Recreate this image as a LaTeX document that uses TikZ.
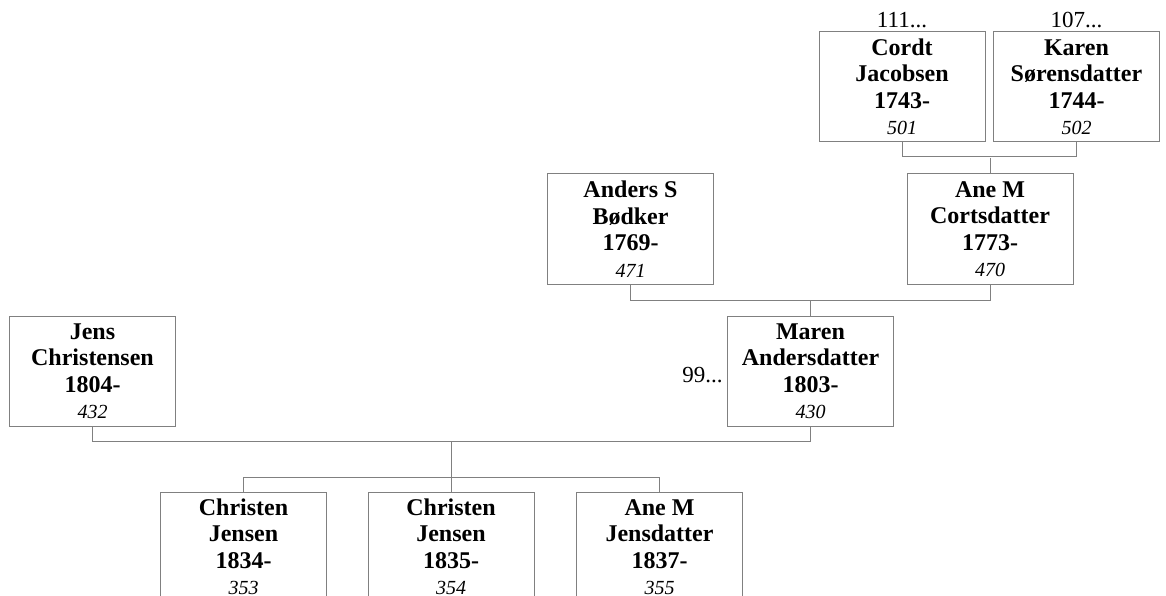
\documentclass[tikz,border=0pt]{standalone}
\usepackage{fontspec}
\setmainfont{Liberation Serif}
\definecolor{linegray}{RGB}{128,128,128}
\begin{document}
\begin{tikzpicture}[x=1pt,y=-1pt,every node/.style={outer sep=0pt},
  person/.style={draw=linegray,line width=1pt,minimum width=166pt,minimum height=110pt,inner sep=0pt,align=center,font=\fontsize{24}{26.5}\selectfont\bfseries},
  link/.style={draw=linegray,line width=1pt},
  more/.style={inner sep=0pt,font=\fontsize{23}{26}\selectfont}]
\useasboundingbox (0,0) rectangle (1166,596);
\clip (0,0) rectangle (1166,596);
\node[person] (cordt) at (902,87) {Cordt\\Jacobsen\\1743-\\{\mdseries\itshape\fontsize{20}{20}\selectfont 501}};
\node[person] (karen) at (1076.5,87) {Karen\\Sørensdatter\\1744-\\{\mdseries\itshape\fontsize{20}{20}\selectfont 502}};
\node[person] (anders) at (630.5,229) {Anders S\\Bødker\\1769-\\{\mdseries\itshape\fontsize{20}{20}\selectfont 471}};
\node[person] (anec) at (990,229) {Ane M\\Cortsdatter\\1773-\\{\mdseries\itshape\fontsize{20}{20}\selectfont 470}};
\node[person] (jens) at (92.5,371) {Jens\\Christensen\\1804-\\{\mdseries\itshape\fontsize{20}{20}\selectfont 432}};
\node[person] (maren) at (810.5,371) {Maren\\Andersdatter\\1803-\\{\mdseries\itshape\fontsize{20}{20}\selectfont 430}};
\node[person] (chr1) at (243.5,547) {Christen\\Jensen\\1834-\\{\mdseries\itshape\fontsize{20}{20}\selectfont 353}};
\node[person] (chr2) at (451,547) {Christen\\Jensen\\1835-\\{\mdseries\itshape\fontsize{20}{20}\selectfont 354}};
\node[person] (anej) at (659.5,547) {Ane M\\Jensdatter\\1837-\\{\mdseries\itshape\fontsize{20}{20}\selectfont 355}};
\node[more,anchor=base] (m111) at (902,28) {111...};
\node[more,anchor=base] (m107) at (1076.5,28) {107...};
\node[more,anchor=east] (m99) at ([xshift=-5pt,yshift=-4pt]maren.west) {99...};
\draw[link] (cordt.south) -- ++(0,15) -| (karen.south);
\draw[link] (anec.north) -- ++(0,-16);
\draw[link] (anders.south) -- ++(0,16) -| (anec.south);
\draw[link] (maren.north) -- ++(0,-16);
\draw[link] (jens.south) -- ++(0,15) -| (maren.south);
\draw[link] (chr2.north) -- ++(0,-51);
\draw[link] (chr1.north) -- ++(0,-15) -| (anej.north);
\end{tikzpicture}
\end{document}
